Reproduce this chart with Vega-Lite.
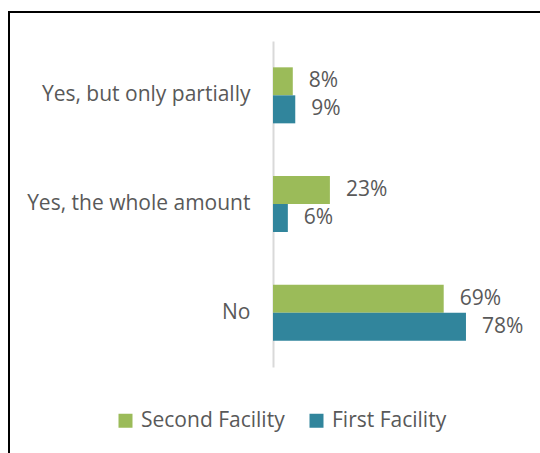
{
  "$schema": "https://vega.github.io/schema/vega-lite/v6.json",
  "width": 533,
  "height": 443,
  "autosize": {"type": "none"},
  "padding": {"left": 9, "top": 12, "right": 0, "bottom": 0},
  "background": "white",
  "config": {"view": {"stroke": "black", "strokeWidth": 2}, "font": "Open Sans"},
  "data": {
    "values": [
      {"answer": "Yes, but only partially", "facility": "Second Facility", "value": 0.08},
      {"answer": "Yes, but only partially", "facility": "First Facility", "value": 0.09},
      {"answer": "Yes, the whole amount", "facility": "Second Facility", "value": 0.23},
      {"answer": "Yes, the whole amount", "facility": "First Facility", "value": 0.06},
      {"answer": "No", "facility": "Second Facility", "value": 0.69},
      {"answer": "No", "facility": "First Facility", "value": 0.78}
    ]
  },
  "encoding": {
    "y": {
      "field": "answer",
      "type": "nominal",
      "sort": ["Yes, but only partially", "Yes, the whole amount", "No"],
      "scale": {"range": [29, 355], "paddingInner": 0, "paddingOuter": 0},
      "axis": {
        "title": null,
        "offset": -264,
        "ticks": false,
        "labelPadding": 23,
        "domainColor": "#d9d9d9",
        "domainWidth": 2,
        "labelFontSize": 21,
        "labelColor": "#595959",
        "labelFont": "Open Sans",
        "labelLimit": 300,
        "grid": false
      }
    },
    "yOffset": {
      "field": "facility",
      "sort": ["Second Facility", "First Facility"],
      "scale": {"paddingInner": 0, "paddingOuter": 0.94}
    },
    "x": {
      "field": "value",
      "type": "quantitative",
      "scale": {"domain": [0, 1], "range": [264, 511.4], "nice": false},
      "axis": null
    },
    "color": {
      "field": "facility",
      "type": "nominal",
      "sort": ["Second Facility", "First Facility"],
      "scale": {"domain": ["Second Facility", "First Facility"], "range": ["#9BBB59", "#31859C"]},
      "legend": {
        "orient": "none",
        "legendX": 106,
        "legendY": 398,
        "direction": "horizontal",
        "title": null,
        "symbolType": "square",
        "symbolSize": 196,
        "symbolStrokeWidth": 0,
        "symbolOpacity": 1,
        "labelFontSize": 21,
        "labelFont": "Open Sans",
        "labelColor": "#595959",
        "labelOffset": 5,
        "columnPadding": 21,
        "labelLimit": 300
      }
    }
  },
  "layer": [
    {"mark": {"type": "bar"}},
    {
      "mark": {"type": "text", "align": "left", "baseline": "middle", "dx": 16, "fontSize": 21, "font": "Open Sans"},
      "encoding": {
        "text": {"field": "value", "type": "quantitative", "format": ".0%"},
        "color": {"value": "#595959"}
      }
    }
  ]
}
